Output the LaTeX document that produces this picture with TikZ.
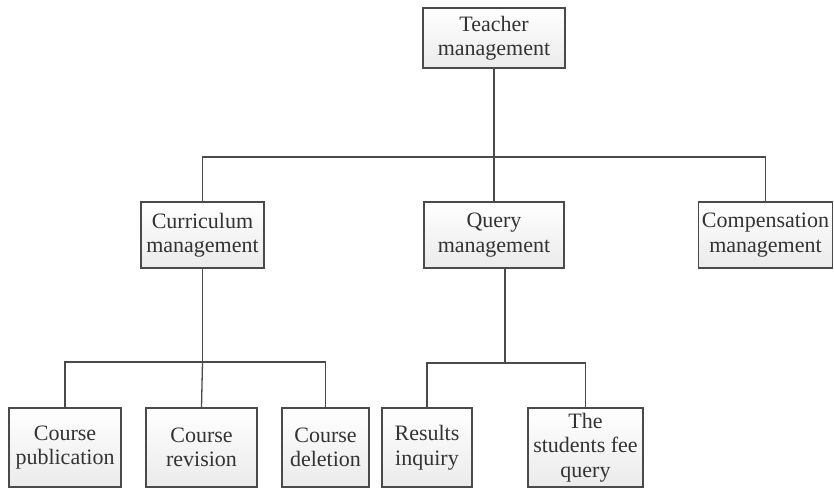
\documentclass[tikz,border=0pt]{standalone}
\usepackage{fontspec}
\setmainfont{Liberation Serif}
\definecolor{edge}{HTML}{4A4A4A}
\definecolor{txt}{HTML}{333333}
\begin{document}
\begin{tikzpicture}[x=1pt,y=-1pt,
  box/.style={draw=edge,line width=1.3pt,rectangle,top color=white,bottom color=gray!16,
    align=center,inner sep=0pt,text=txt,font=\fontsize{22}{24.5}\selectfont},
  link/.style={draw=edge,line width=1.3pt}]
\useasboundingbox (0,0) rectangle (834,497);
\node[box,minimum width=142pt,minimum height=60pt] (T) at (494,38) {Teacher\\management};
\node[box,minimum width=123pt,minimum height=66pt] (C) at (202.5,235) {Curriculum\\management};
\node[box,minimum width=140pt,minimum height=66pt] (Q) at (494,235) {Query\\management};
\node[box,minimum width=134pt,minimum height=66pt] (P) at (765.5,235) {Compensation\\management};
\node[box,minimum width=112pt,minimum height=79pt] (CP) at (65,447.5) {Course\\publication};
\node[box,minimum width=111pt,minimum height=79pt] (CR) at (201.5,447.5) {Course\\revision};
\node[box,minimum width=87pt,minimum height=79pt] (CD) at (325.5,447.5) {Course\\deletion};
\node[box,minimum width=90pt,minimum height=79pt] (RI) at (427,447.5) {Results\\inquiry};
\node[box,minimum width=115pt,minimum height=79pt] (SF) at (585.5,447.5) {The\\students fee\\query};
\coordinate (b1) at (0,157);
\coordinate (b2) at (0,362);
\coordinate (b3) at (0,363);
\coordinate (qs) at ([xshift=11pt]Q.south);
% level 1
\draw[link] (T.south) -- (T.south|-b1) -| (C.north);
\draw[link] (T.south|-b1) -| (P.north);
\draw[link] (T.south|-b1) -- (Q.north);
% curriculum
\draw[link] (C.south) -- (C.south|-b2) -| (CP.north);
\draw[link] (C.south|-b2) -| (CD.north);
\draw[link] (C.south|-b2) -- (CR.north);
% query
\draw[link] (qs) -- (qs|-b3) -| (RI.north);
\draw[link] (qs|-b3) -| (SF.north);
\end{tikzpicture}
\end{document}
